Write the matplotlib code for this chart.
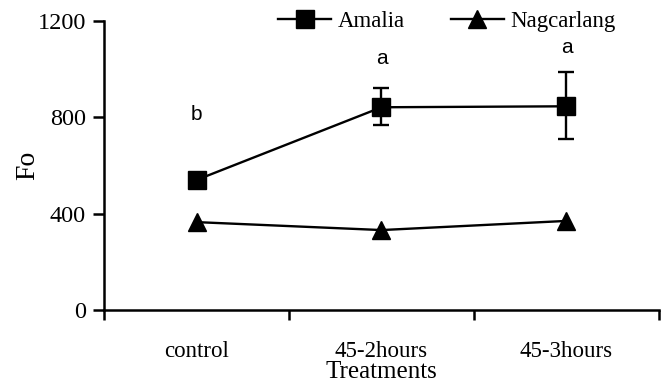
import matplotlib
matplotlib.use("Agg")
import numpy as np
from matplotlib import pyplot as plt
from matplotlib.lines import Line2D

categories = ["control", "45-2hours", "45-3hours"]
amalia = [540, 842, 846]
amalia_err_low = [0, 74, 136]
amalia_err_high = [0, 79, 142]
nagcarlang = [365, 332, 370]
letters = ["b", "a", "a"]
letter_y = [810, 1045, 1090]

plt.rcParams["font.family"] = ["Liberation Serif", "DejaVu Serif"]

fig = plt.figure(figsize=(6.68, 3.83), dpi=100)
ax = fig.add_axes([0.1557, 0.1906, 0.8308, 0.7544])

x = np.arange(len(categories))
ax.errorbar(x, amalia, yerr=[amalia_err_low, amalia_err_high], color="black",
            marker="s", markersize=12.5, linewidth=1.7, elinewidth=1.7,
            capsize=6, capthick=1.7)
ax.plot(x, nagcarlang, color="black", marker="^", markersize=12.5, linewidth=1.7)

for xi, txt, yi in zip(x, letters, letter_y):
    ax.text(xi, yi, txt, ha="center", va="center", fontsize=15,
            family="Liberation Sans")

ax.set_xlim(-0.5, 2.5)
ax.set_ylim(0, 1200)
ax.set_yticks([0, 400, 800, 1200])
ax.set_xticks([-0.5, 0.5, 1.5, 2.5])
ax.set_xticklabels([])
ax.set_xticks(x, minor=True)
ax.set_xticklabels(categories, minor=True, fontsize=16.5)
ax.tick_params(axis="x", which="minor", length=0, pad=22)
ax.tick_params(axis="x", which="major", length=7, width=1.8, direction="out")
ax.tick_params(axis="y", length=8, width=1.8, direction="out", labelsize=17.5, pad=5)

for s in ["top", "right"]:
    ax.spines[s].set_visible(False)
for s in ["left", "bottom"]:
    ax.spines[s].set_linewidth(1.8)

ax.set_ylabel("Fo", fontsize=20, va="center")
ax.yaxis.set_label_coords(-0.137, 0.5)
ax.set_xlabel("Treatments", fontsize=18, va="top")
ax.xaxis.set_label_coords(0.5, -0.178)

handles = [Line2D([], [], color="black", marker="s", markersize=12.5, linewidth=1.7),
           Line2D([], [], color="black", marker="^", markersize=12.5, linewidth=1.7)]
ax.legend(handles, ["Amalia", "Nagcarlang"], loc="center",
          bbox_to_anchor=(0.618, 1.0), ncol=2, frameon=False,
          fontsize=16.5, handlelength=2.3, handletextpad=0.3, columnspacing=2.0,
          borderaxespad=0, borderpad=0)

fig.savefig("out.png", dpi=100)
